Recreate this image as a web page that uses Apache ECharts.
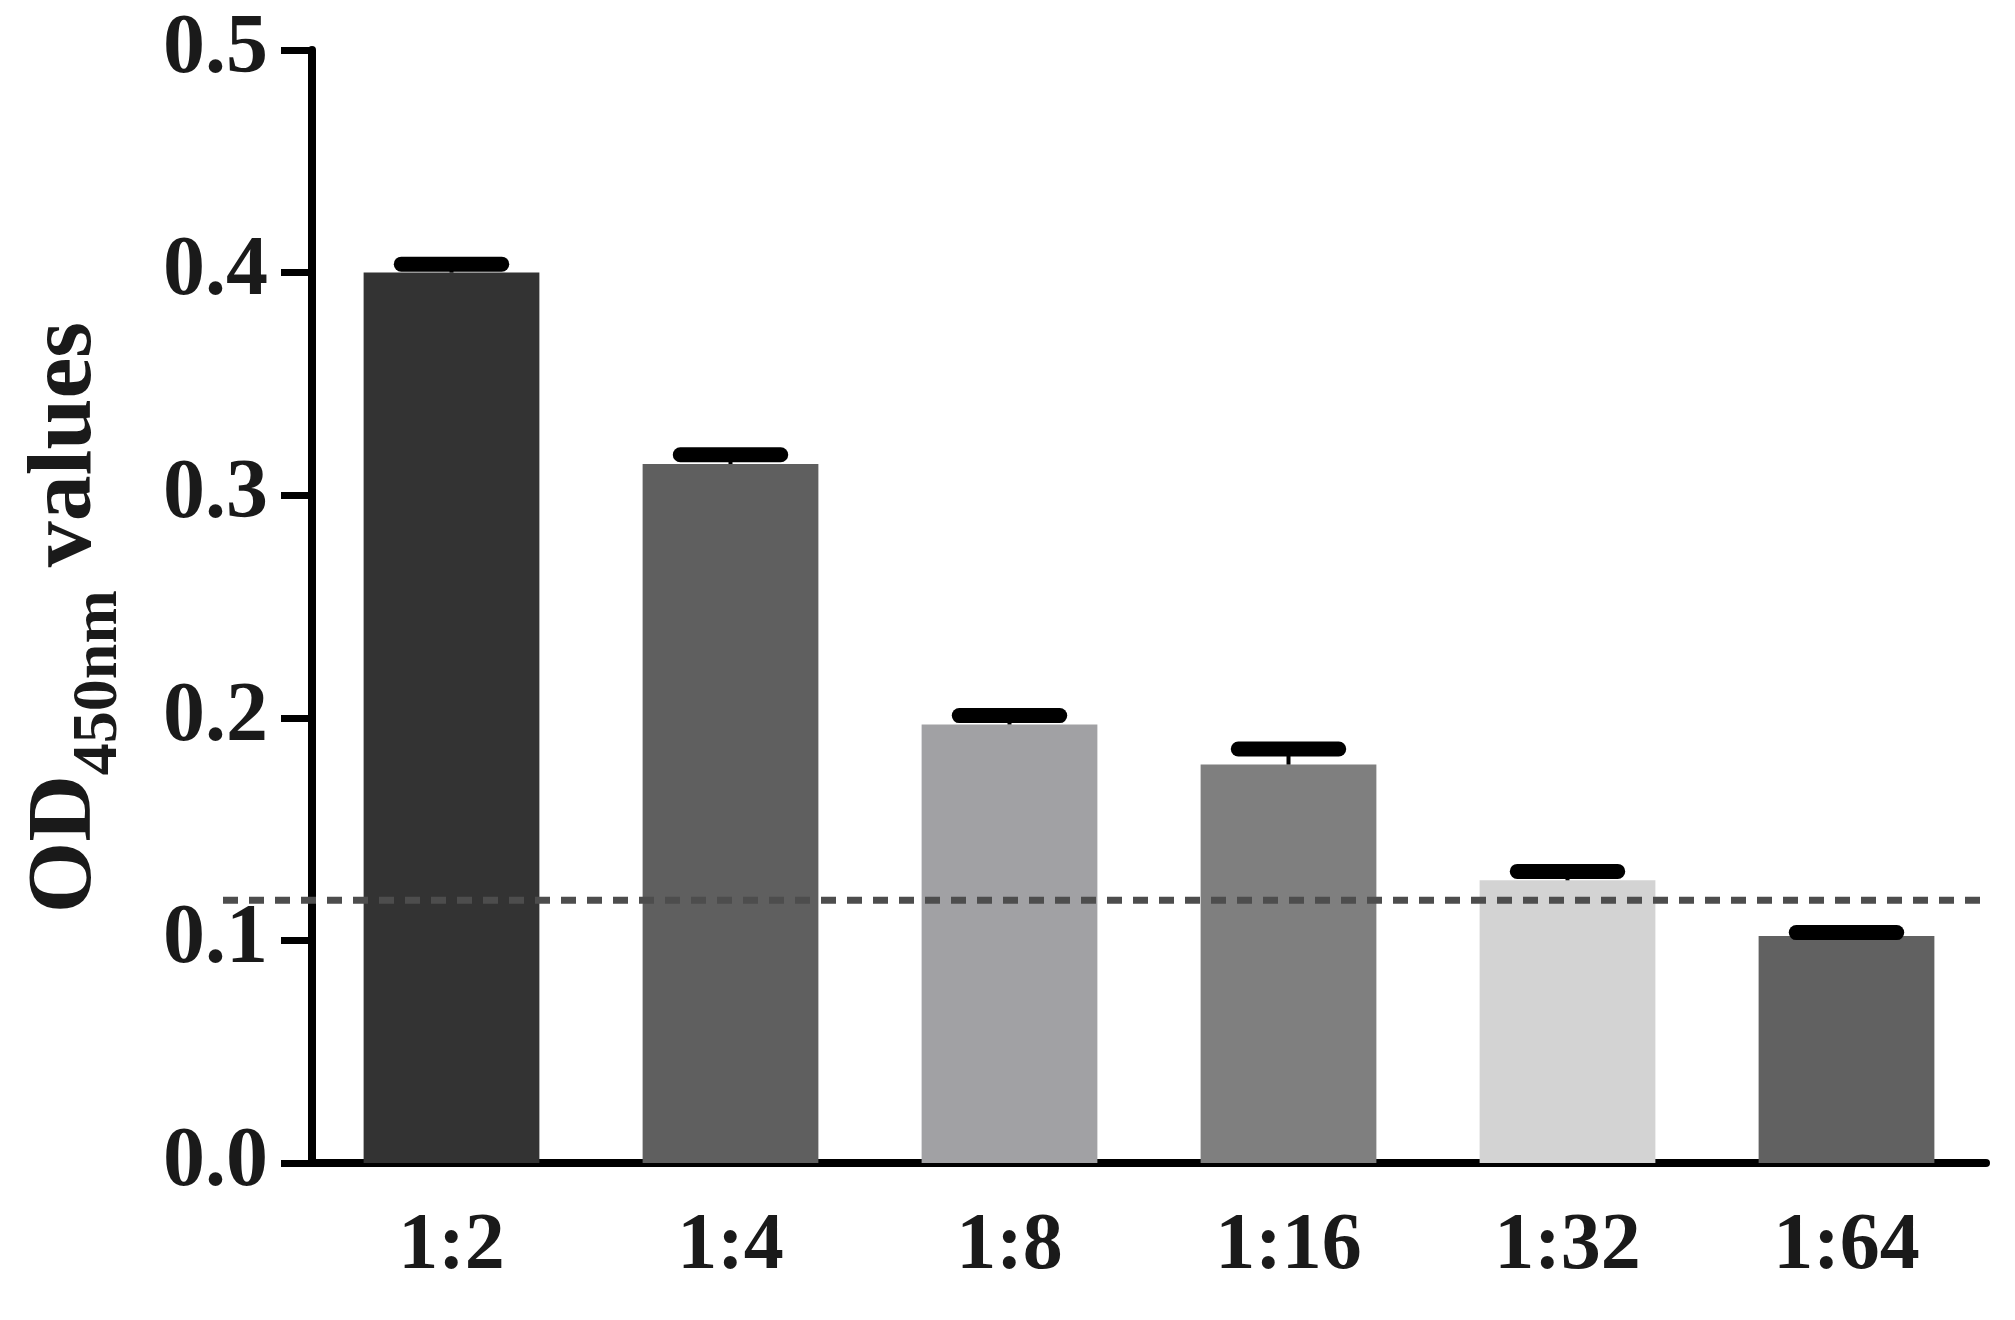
<!DOCTYPE html>
<html>
<head>
<meta charset="utf-8">
<script src="https://cdn.jsdelivr.net/npm/echarts@6/dist/echarts.min.js"></script>
<style>
  html, body { margin: 0; padding: 0; background: #ffffff; }
  #chart { width: 2015px; height: 1320px; }
</style>
</head>
<body>
<div id="chart"></div>
<script>
// ---- data ----
const categories = ['1:2', '1:4', '1:8', '1:16', '1:32', '1:64'];
const meanValues = [0.400, 0.314, 0.197, 0.179, 0.127, 0.102];
const errorValues = [0.0038, 0.0042, 0.0040, 0.0070, 0.0040, 0.0015];
const cutoffValue = 0.118;
const yTicks = [0.0, 0.1, 0.2, 0.3, 0.4, 0.5];

// ---- styles ----
const barColors = ['#333333', '#5f5f5f', '#a1a1a4', '#7f7f7f', '#d3d3d3', '#616161'];
const textColor = '#1a1a1a';
const fontFamily = '"Liberation Serif", "Times New Roman", serif';

const chart = echarts.init(document.getElementById('chart'), null, { renderer: 'canvas' });

const errorData = categories.map((c, i) => [i, meanValues[i], errorValues[i]]);

const option = {
  animation: false,
  backgroundColor: '#ffffff',
  grid: { left: 312, right: 29, top: 50, bottom: 157, containLabel: false },
  xAxis: {
    type: 'category',
    data: categories,
    axisLine: { lineStyle: { color: '#000', width: 8 } },
    axisTick: { alignWithLabel: true, length: 28, lineStyle: { color: '#000', width: 7 } },
    axisLabel: {
      margin: 44,
      color: textColor,
      fontFamily: fontFamily,
      fontWeight: 'bold',
      fontSize: 80
    },
    splitLine: { show: false }
  },
  yAxis: {
    type: 'value',
    min: yTicks[0],
    max: yTicks[yTicks.length - 1],
    interval: 0.1,
    axisLine: { show: true, lineStyle: { color: '#000', width: 8 } },
    axisTick: { show: true, length: 31, lineStyle: { color: '#000', width: 7 } },
    axisLabel: {
      margin: 44,
      color: textColor,
      fontFamily: fontFamily,
      fontWeight: 'bold',
      fontSize: 84,
      formatter: v => v.toFixed(1)
    },
    splitLine: { show: false },
    name: '{a|OD}{b|450nm}{a| values}',
    nameLocation: 'middle',
    nameRotate: 90,
    nameGap: 181,
    nameTextStyle: {
      padding: [0, 22, 0, 0],
      rich: {
        a: {
          fontFamily: fontFamily, fontWeight: 'bold', fontSize: 92,
          color: textColor, lineHeight: 130, verticalAlign: 'middle'
        },
        b: {
          fontFamily: fontFamily, fontWeight: 'bold', fontSize: 64,
          color: textColor, lineHeight: 64, verticalAlign: 'bottom'
        }
      }
    }
  },
  series: [
    {
      type: 'bar',
      data: meanValues,
      barWidth: '63%',
      itemStyle: { color: p => barColors[p.dataIndex] },
      z: 2
    },
    {
      type: 'custom',
      data: errorData,
      encode: { x: 0, y: [1, 2] },
      z: 3,
      renderItem: function (params, api) {
        const idx = api.value(0);
        const mean = api.value(1);
        const err = api.value(2);
        const top = api.coord([idx, mean + err]);
        const base = api.coord([idx, mean]);
        const half = api.size([1, 0])[0] * 0.18;
        return {
          type: 'group',
          children: [
            {
              type: 'line',
              shape: { x1: base[0], y1: base[1], x2: top[0], y2: top[1] },
              style: { stroke: '#000', lineWidth: 4 }
            },
            {
              type: 'line',
              shape: { x1: top[0] - half, y1: top[1], x2: top[0] + half, y2: top[1] },
              style: { stroke: '#000', lineWidth: 15, lineCap: 'round' }
            }
          ]
        };
      }
    },
    {
      type: 'custom',
      data: [[0, cutoffValue]],
      encode: { x: 0, y: 1 },
      z: 4,
      clip: false,
      renderItem: function (params, api) {
        const p = api.coord([0, api.value(1)]);
        const cs = params.coordSys;
        return {
          type: 'line',
          shape: { x1: cs.x - 89, y1: p[1], x2: cs.x + cs.width - 4, y2: p[1] },
          style: { stroke: '#4d4d4d', lineWidth: 7, lineDash: [15, 11] }
        };
      }
    }
  ]
};

chart.setOption(option);
</script>
</body>
</html>
